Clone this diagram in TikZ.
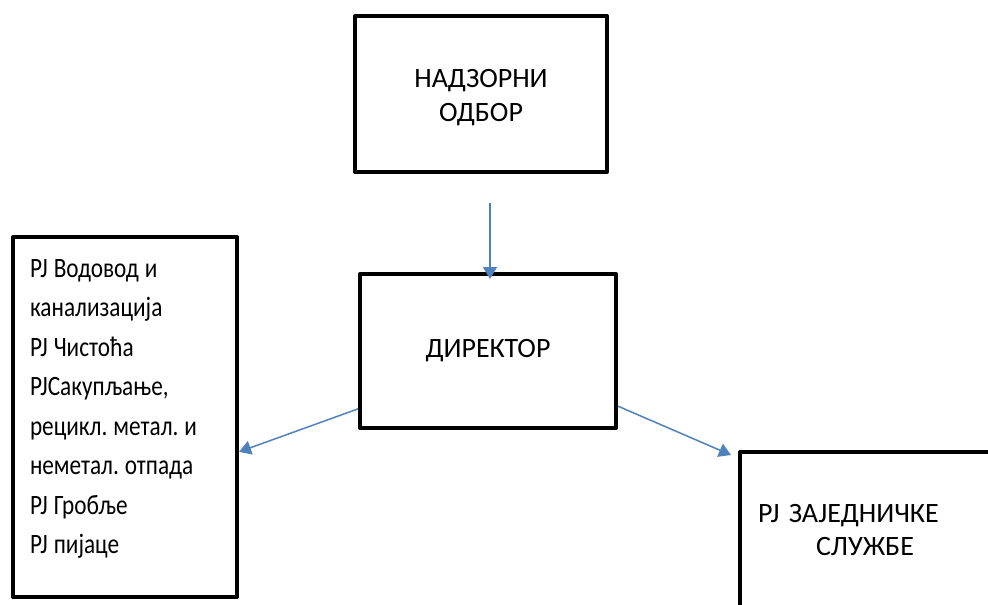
\documentclass[tikz,border=0pt]{standalone}
\usepackage{fontspec}
\setmainfont{Carlito}
\newfontfamily\narrowfont[FakeStretch=0.83]{Carlito}
\usetikzlibrary{arrows.meta,positioning}
\definecolor{linkblue}{RGB}{79,129,189}

\begin{document}
\frenchspacing
\begin{tikzpicture}[
    x=1pt, y=-1pt,
    block/.style={rectangle, draw, line width=4pt, line join=round, align=center, font=\fontsize{28}{34}\selectfont},
    link/.style={-{Triangle[length=12pt,width=14pt]}, draw=linkblue, line width=1.5pt}
]
    \useasboundingbox (0,0) rectangle (988,605);

    \node[block, minimum width=252pt, minimum height=156pt] (board) at (481,94) {\rule{0pt}{26pt}НАДЗОРНИ\\ОДБОР};
    \node[block, minimum width=256pt, minimum height=154pt] (director) at (488,351) {ДИРЕКТОР};
    \node[block, minimum height=360pt, text width=190pt, inner xsep=17pt, align=left, font=\narrowfont\fontsize{28}{39.5}\selectfont] (units) at (125,417) {\spaceskip=6pt\relax PJ Водовод и\\канализација\\PJ Чистоћа\\PJСакупљање,\\рецикл. метал. и\\неметал. отпада\\PJ Гробље\\PJ пијаце\rule[-21pt]{0pt}{21pt}};
    \node[block, anchor=north west, text width=300pt, inner xsep=18pt, inner ysep=52pt, align=left, font=\fontsize{28}{33}\selectfont] (services) at (738,450) {PJ ЗАЈЕДНИЧКЕ\\\hspace*{58pt}СЛУЖБЕ\rule[-20pt]{0pt}{20pt}};

    \coordinate (boardout) at (490,203);
    \coordinate (servin) at (731,455);
    \draw[link, shorten >=-7pt] (boardout) -- (boardout |- director.north);
    \draw[link] (director.-156.7) -- (units.-17.5);
    \draw[link] (director.-23.3) -- (servin);
\end{tikzpicture}
\end{document}
